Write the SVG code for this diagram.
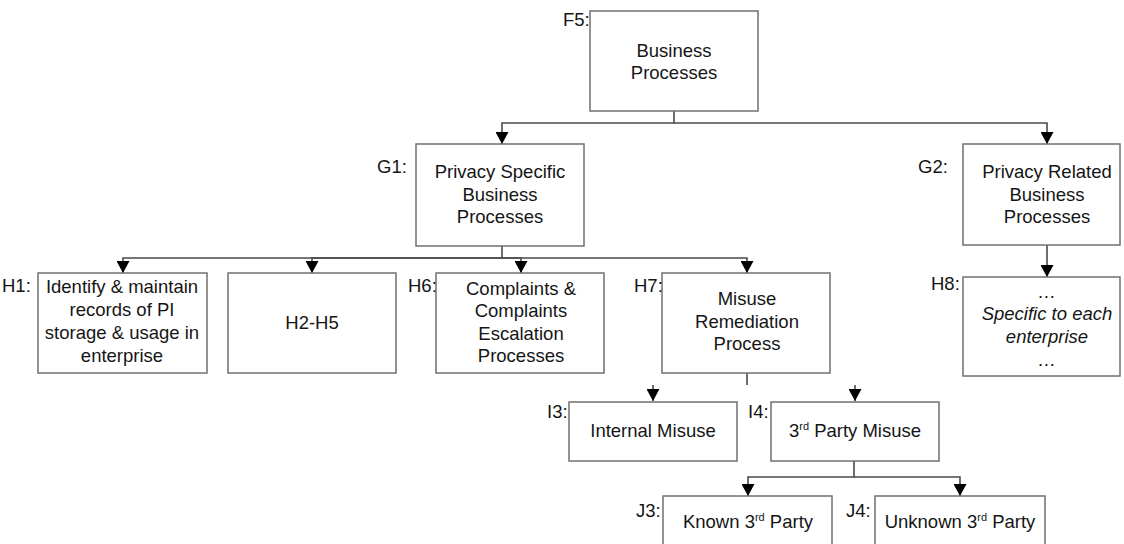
<svg xmlns="http://www.w3.org/2000/svg" width="1124" height="544" viewBox="0 0 1124 544">
  <style>
    .box { fill: #ffffff; stroke: #707070; stroke-width: 1.5; }
    .lbl { font-family: "Liberation Sans", Arial, sans-serif; font-size: 18.5px; fill: #151515; }
    .txt { font-family: "Liberation Sans", Arial, sans-serif; font-size: 18.5px; fill: #151515; text-anchor: middle; }
    .it { font-style: italic; }
    .sup { font-size: 11px; }
    .conn { fill: none; stroke: #4a4a4a; stroke-width: 1.6; }
  </style>
  <defs>
    <marker id="arrow" markerUnits="userSpaceOnUse" markerWidth="13" markerHeight="13" refX="12" refY="6.5" orient="auto">
      <path d="M0,0 L12,6.5 L0,13 z" fill="#000000"/>
    </marker>
  </defs>
  <rect width="1124" height="544" fill="#ffffff"/>

  <!-- connectors -->
  <g id="connectors">
    <path class="conn" d="M674,111 V123 H502 V144" marker-end="url(#arrow)"/>
    <path class="conn" d="M674,123 H1047 V144" marker-end="url(#arrow)"/>
    <path class="conn" d="M502,246 V258 H123 V273" marker-end="url(#arrow)"/>
    <path class="conn" d="M502,258 H312 V273" marker-end="url(#arrow)"/>
    <path class="conn" d="M502,258 H521 V273" marker-end="url(#arrow)"/>
    <path class="conn" d="M502,258 H747 V273" marker-end="url(#arrow)"/>
    <path class="conn" d="M1047,245 V277" marker-end="url(#arrow)"/>
    <path class="conn" d="M747,373 V385"/>
    <path class="conn" d="M653,385 V401" marker-end="url(#arrow)"/>
    <path class="conn" d="M855,385 V401" marker-end="url(#arrow)"/>
    <path class="conn" d="M854,461 V477 H748 V496" marker-end="url(#arrow)"/>
    <path class="conn" d="M854,477 H960 V496" marker-end="url(#arrow)"/>
  </g>

  <g id="F5">
    <rect class="box" x="590" y="11" width="168" height="100"/>
    <text class="lbl" x="563" y="26">F5:</text>
    <text class="txt" x="674" y="57">Business</text>
    <text class="txt" x="674" y="79">Processes</text>
  </g>

  <g id="G1">
    <rect class="box" x="416" y="144" width="168" height="102"/>
    <text class="lbl" x="377" y="173">G1:</text>
    <text class="txt" x="500" y="178">Privacy Specific</text>
    <text class="txt" x="500" y="201">Business</text>
    <text class="txt" x="500" y="223">Processes</text>
  </g>

  <g id="G2">
    <rect class="box" x="963" y="144" width="157" height="101"/>
    <text class="lbl" x="918" y="173">G2:</text>
    <text class="txt" x="1047" y="178">Privacy Related</text>
    <text class="txt" x="1047" y="201">Business</text>
    <text class="txt" x="1047" y="223">Processes</text>
  </g>

  <g id="H1">
    <rect class="box" x="38" y="273" width="169" height="100"/>
    <text class="lbl" x="2" y="292">H1:</text>
    <text class="txt" x="122" y="293">Identify &amp; maintain</text>
    <text class="txt" x="122" y="316">records of PI</text>
    <text class="txt" x="122" y="339">storage &amp; usage in</text>
    <text class="txt" x="122" y="362">enterprise</text>
  </g>

  <g id="H2-H5">
    <rect class="box" x="228" y="273" width="168" height="100"/>
    <text class="txt" x="312" y="329">H2-H5</text>
  </g>

  <g id="H6">
    <rect class="box" x="436" y="273" width="168" height="100"/>
    <text class="lbl" x="408" y="292">H6:</text>
    <text class="txt" x="521" y="295">Complaints &amp;</text>
    <text class="txt" x="521" y="317">Complaints</text>
    <text class="txt" x="521" y="340">Escalation</text>
    <text class="txt" x="521" y="362">Processes</text>
  </g>

  <g id="H7">
    <rect class="box" x="662" y="273" width="168" height="100"/>
    <text class="lbl" x="634" y="292">H7:</text>
    <text class="txt" x="747" y="305">Misuse</text>
    <text class="txt" x="747" y="328">Remediation</text>
    <text class="txt" x="747" y="350">Process</text>
  </g>

  <g id="H8">
    <rect class="box" x="963" y="277" width="157" height="99"/>
    <text class="lbl" x="931" y="290">H8:</text>
    <text class="txt it" x="1047" y="298">…</text>
    <text class="txt it" x="1047" y="320">Specific to each</text>
    <text class="txt it" x="1047" y="343">enterprise</text>
    <text class="txt it" x="1047" y="366">…</text>
  </g>

  <g id="I3">
    <rect class="box" x="569" y="402" width="168" height="59"/>
    <text class="lbl" x="547" y="418">I3:</text>
    <text class="txt" x="653" y="437">Internal Misuse</text>
  </g>

  <g id="I4">
    <rect class="box" x="771" y="402" width="168" height="59"/>
    <text class="lbl" x="748" y="418">I4:</text>
    <text class="txt" x="855" y="437">3<tspan class="sup" dy="-7">rd</tspan><tspan dy="7"> Party Misuse</tspan></text>
  </g>

  <g id="J3">
    <rect class="box" x="663" y="496" width="169" height="60"/>
    <text class="lbl" x="636" y="517">J3:</text>
    <text class="txt" x="748" y="528">Known 3<tspan class="sup" dy="-7">rd</tspan><tspan dy="7"> Party</tspan></text>
  </g>

  <g id="J4">
    <rect class="box" x="875" y="496" width="170" height="60"/>
    <text class="lbl" x="846" y="517">J4:</text>
    <text class="txt" x="960" y="528">Unknown 3<tspan class="sup" dy="-7">rd</tspan><tspan dy="7"> Party</tspan></text>
  </g>
</svg>
